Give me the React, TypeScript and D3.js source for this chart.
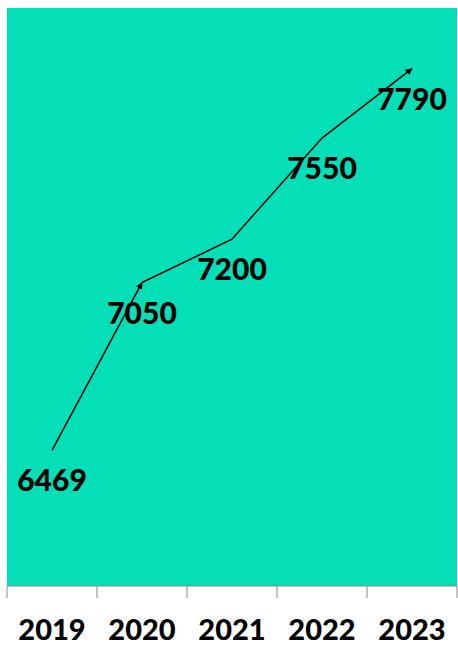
import React from "react";
import * as d3 from "d3";

const years = ["2019", "2020", "2021", "2022", "2023"];
const values = [6469, 7050, 7200, 7550, 7790];
const yDomain = [6000, 8000];

const W = 458;
const H = 645;
const plot = { left: 7, right: 457, top: 8, bottom: 586 };

export default function App() {
  const x = d3
    .scaleBand<string>()
    .domain(years)
    .range([plot.left, plot.right])
    .padding(0);
  const y = d3.scaleLinear().domain(yDomain).range([plot.bottom, plot.top]);
  const pts = years.map((yr, i) => [x(yr)! + x.bandwidth() / 2, y(values[i])] as [number, number]);
  const line = d3.line();
  const seg1 = line(pts.slice(0, 2))!;
  const seg2 = line(pts.slice(1))!;
  const tickXs = [...years.map((yr) => x(yr)!), plot.right];

  return (
    <svg
      width={W}
      height={H}
      style={{ position: "absolute", left: 0, top: 0, background: "#fff" }}
      fontFamily="Lato, 'Open Sans', sans-serif"
    >
      <defs>
        <marker
          id="arr"
          viewBox="0 0 10 10"
          refX="9"
          refY="5"
          markerWidth="7"
          markerHeight="7"
          markerUnits="userSpaceOnUse"
          orient="auto"
        >
          <path d="M0,0 L10,5 L0,10 z" fill="#000" />
        </marker>
      </defs>
      <rect
        x={plot.left}
        y={plot.top}
        width={plot.right - plot.left}
        height={plot.bottom - plot.top}
        fill="#04DFB8"
      />
      <line x1={plot.left} x2={plot.right} y1={plot.bottom} y2={plot.bottom} stroke="#8a8a8a" strokeWidth={1} />
      {tickXs.map((tx, i) => (
        <line key={i} x1={tx} x2={tx} y1={plot.bottom} y2={plot.bottom + 12} stroke="#8a8a8a" strokeWidth={1} />
      ))}
      <path d={seg1} fill="none" stroke="#000" strokeWidth={1.5} markerEnd="url(#arr)" />
      <path d={seg2} fill="none" stroke="#000" strokeWidth={1.5} markerEnd="url(#arr)" />
      {pts.map(([px, py], i) => (
        <text
          key={i}
          x={px}
          y={py + 41}
          textAnchor="middle"
          fontSize={30}
          fontWeight={900}
          fill="#000"
        >
          {values[i]}
        </text>
      ))}
      {years.map((yr) => (
        <text
          key={yr}
          x={x(yr)! + x.bandwidth() / 2}
          y={640}
          textAnchor="middle"
          fontSize={29}
          fontWeight={900}
          fill="#000"
        >
          {yr}
        </text>
      ))}
    </svg>
  );
}
